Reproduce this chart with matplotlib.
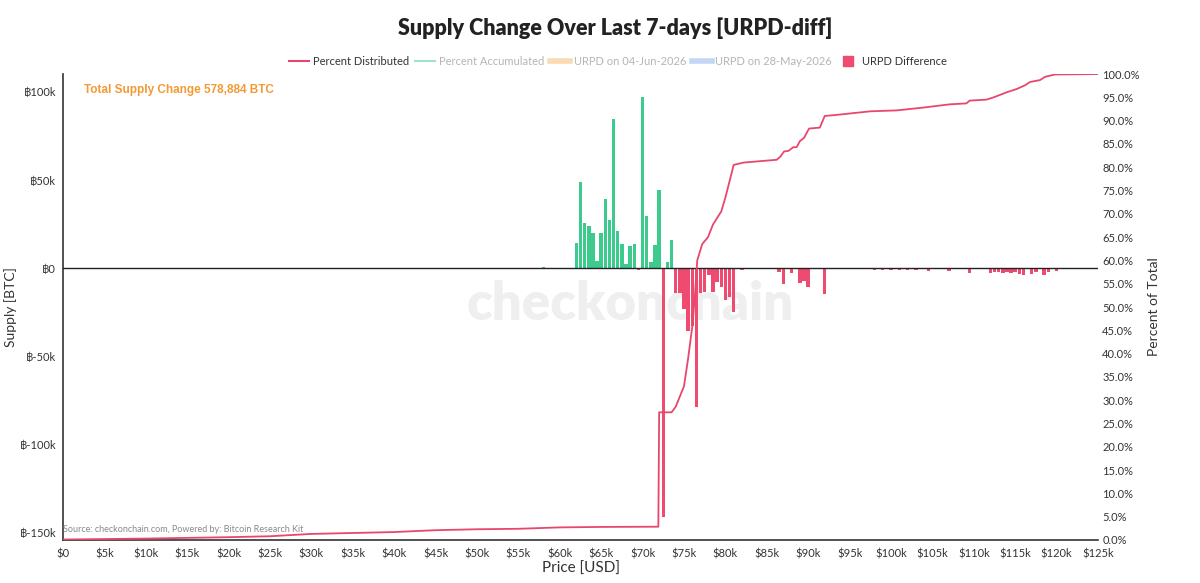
import numpy as np
import matplotlib.pyplot as plt
from matplotlib.lines import Line2D

plt.rcParams['font.family'] = ['Lato', 'DejaVu Sans']

# URPD difference bars: bin price (USD) and supply change (BTC)
bar_price = [500, 3500, 15500, 29500, 38500, 42000, 58000, 59000, 60000, 61000,
             62000, 62500, 63000, 63500, 64000, 64500, 65000, 65500, 66000, 66500,
             67000, 67500, 68000, 68500, 69000, 69500, 70000, 70500, 71000, 71500,
             72000, 72500, 73000, 73500,
             74000, 74500, 75000, 75500, 76000, 76500, 77000, 77500, 78000, 78500,
             79000, 79500, 80000, 80500, 81000, 82000, 83000, 84000, 85000,
             86500, 87000, 88000, 89000, 89500, 90000, 91000, 92000, 93000, 94000,
             95000, 98000, 99000, 100000, 101000, 102000, 103000, 104500, 107000,
             109500, 112000, 112500, 113000, 113500, 114000, 114500, 115000, 115500,
             116000, 117000, 117500, 118500, 119000, 120000]
bar_value = [-400, -300, -500, -400, -400, -600, 500, -600, -500, -600,
             14200, 49000, 25400, 24000, 19700, 3800, 19700, 39200, 27400, 84600,
             20800, 13800, 2300, 12300, 13800, -1000, 97000, 29700, 3200, 13000,
             44500, -141400, 3200, 15700,
             -14000, -14200, -23500, -36000, -33000, -78800, -14000, -13500, -4000, -13500,
             -8000, -11000, -18000, -16500, -25000, -1000, -500, -600, -700,
             -2000, -9000, -3000, -8500, -7600, -11000, -700, -15000, -800, -800,
             -600, -1000, -1200, -1300, -1200, -1000, -900, -1500, -1500,
             -3000, -3000, -2000, -2500, -2800, -2500, -3000, -2200, -3500,
             -3800, -3500, -2000, -4200, -2000, -1500]

# Percent Distributed line (right axis)
dist_price = [0, 10000, 20000, 25000, 30000, 35000, 40000, 45000, 50000, 55000,
              60000, 65000, 71900, 72000, 73500, 74000, 75000, 75500, 76000, 76300,
              76600, 77200, 77900, 78500, 79100, 79500, 80000, 81000, 82200, 86200,
              86600, 87100, 87600, 88200, 88600, 89000, 89500, 90100, 91400, 92000,
              93800, 97500, 100700, 103900, 107100, 109100, 109500, 111500, 112400,
              114000, 115200, 116200, 116800, 118000, 118600, 119800, 125000]
dist_pct = [0.1, 0.3, 0.6, 0.8, 1.3, 1.5, 1.7, 2.1, 2.3, 2.4,
            2.7, 2.8, 2.85, 27.4, 27.4, 28.6, 33, 39, 45.8, 52,
            60, 63.5, 65, 67.7, 69.4, 70.5, 73.5, 80.5, 81.0, 81.6,
            82.2, 83.4, 83.5, 84.3, 84.3, 85.6, 86.3, 88.3, 88.5, 91.0,
            91.3, 92.0, 92.2, 92.8, 93.5, 93.7, 94.3, 94.5, 95.0,
            96.1, 96.8, 97.6, 98.3, 98.7, 99.4, 99.9, 100]

x_ticks = np.arange(0, 125001, 5000)
y_ticks = [100000, 50000, 0, -50000, -100000, -150000]
pct_ticks = np.arange(0, 101, 5)

GREEN = '#3ccb8c'
RED = '#ef4a70'
LINE = '#e8476d'
TXT = '#333333'

fig = plt.figure(figsize=(12, 5.83), dpi=100)
ax = fig.add_axes([0.0525, 0.0738, 0.8625, 0.7992])
ax2 = ax.twinx()

# watermark
ax.text(0.548, 0.505, 'checkonchain', transform=ax.transAxes, ha='center', va='center',
        fontsize=38, fontweight='heavy', color='#efefef', zorder=0)

vals = np.array(bar_value)
colors = [GREEN if v > 0 else RED for v in vals]
ax.bar(bar_price, vals, width=420, color=colors, zorder=2)
ax.axhline(0, color='#222222', linewidth=1, zorder=3)

ax.set_xlim(0, 125000)
ax.set_ylim(-154500, 110200)
ax.set_xticks(x_ticks)
ax.set_xticklabels(['$0' if t == 0 else f'${t // 1000}k' for t in x_ticks])
ax.set_yticks(y_ticks)
ax.set_yticklabels(['฿0' if t == 0 else f'฿{t // 1000}k' for t in y_ticks])
ax.tick_params(axis='both', length=0, labelsize=8, colors=TXT)
ax.tick_params(axis='x', pad=6)
ax.tick_params(axis='y', pad=5)
ax.set_xlabel('Price [USD]', fontsize=11, color=TXT, labelpad=2)
ax.set_ylabel('Supply [BTC]', fontsize=10, color=TXT, labelpad=2)
for s in ['top', 'right']:
    ax.spines[s].set_visible(False)
for s in ['left', 'bottom']:
    ax.spines[s].set_color('#333333')
    ax.spines[s].set_linewidth(1.2)

ax2.plot(dist_price, dist_pct, color=LINE, linewidth=1.3, zorder=4)
ax2.set_ylim(0, 100)
ax2.set_yticks(pct_ticks)
ax2.set_yticklabels([f'{p:.1f}%' for p in pct_ticks])
ax2.tick_params(axis='y', length=0, labelsize=8, colors=TXT, pad=3)
ax2.set_ylabel('Percent of Total', fontsize=10, color=TXT, labelpad=6)
for s in ax2.spines.values():
    s.set_visible(False)

ax.text(0.02, 0.965, 'Total Supply Change 578,884 BTC', transform=ax.transAxes,
        fontsize=8.5, fontweight='bold', color='#f39a34', va='center', family=['Liberation Sans'])
ax.text(0.0, 0.012, 'Source: checkonchain.com, Powered by: Bitcoin Research Kit',
        transform=ax.transAxes, fontsize=6.5, color='#8a8a8a', va='bottom')

fig.text(0.513, 0.952, 'Supply Change Over Last 7-days [URPD-diff]', ha='center', va='center',
         fontsize=15.5, fontweight='heavy', color='#222222')

handles = [
    Line2D([], [], color=LINE, linewidth=1.5),
    Line2D([], [], color='#9fe3cc', linewidth=1.5),
    Line2D([], [], color='#fbdcb0', linewidth=4),
    Line2D([], [], color='#c3d6f5', linewidth=4),
    Line2D([], [], color=RED, marker='s', linestyle='none', markersize=7),
]
labels = ['Percent Distributed', 'Percent Accumulated', 'URPD on 04-Jun-2026',
          'URPD on 28-May-2026', 'URPD Difference']
leg = fig.legend(handles, labels, loc='center', bbox_to_anchor=(0.515, 0.895), ncol=5,
                 frameon=False, fontsize=8, handlelength=1.8, columnspacing=0.5,
                 handletextpad=0.35)
for t, c in zip(leg.get_texts(), [TXT, '#b5b5b5', '#b5b5b5', '#b5b5b5', TXT]):
    t.set_color(c)

fig.savefig('out.png', dpi=100)
